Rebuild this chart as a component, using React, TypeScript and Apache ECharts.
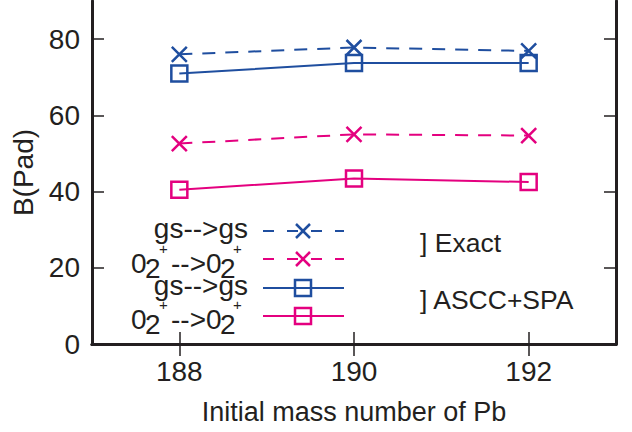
import React, { useEffect, useRef } from "react";
import * as echarts from "echarts";

const massNumbers = [188, 190, 192];
const exactGsGs = [76.0, 77.8, 76.9];
const exact0202 = [52.6, 55.0, 54.7];
const asccGsGs = [71.0, 73.7, 73.7];
const ascc0202 = [40.5, 43.4, 42.5];
const xTicks = [188, 190, 192];
const yTicks = [0, 20, 40, 60, 80];
const groupLabels = ["] Exact", "] ASCC+SPA"];

const BLUE = "#1f4e9f";
const PINK = "#e4007f";
const INK = "#231f20";
const FONT = "Liberation Sans, Arial, Helvetica, sans-serif";
const X_PATH = "path://M0,0L10,10M10,0L0,10";

export default function App() {
  const ref = useRef<HTMLDivElement>(null);
  useEffect(() => {
    if (!ref.current) return;
    const chart = echarts.init(ref.current, undefined, { renderer: "svg" });
    const pair = (arr: number[]) => massNumbers.map((m, i) => [m, arr[i]]);
    const mkSeries = (data: number[], color: string, dashed: boolean, sym: string) => ({
      type: "line",
      data: pair(data),
      symbol: sym,
      symbolSize: sym === "rect" ? 16 : 15,
      showSymbol: true,
      itemStyle: { color: "transparent", borderColor: color, borderWidth: 2.5 },
      lineStyle: { color, width: 2, type: dashed ? [13, 10] : "solid" },
      z: 3,
    });

    const rows = [231, 259, 288, 316];
    const lx1 = 263, lx2 = 344, mx = 303;
    const legendLines: any[] = [];
    const cols = [BLUE, PINK, BLUE, PINK];
    rows.forEach((y, i) => {
      const dashed = i < 2;
      legendLines.push({
        type: "line",
        shape: { x1: lx1, y1: y, x2: lx2, y2: y },
        style: { stroke: cols[i], lineWidth: 2, lineDash: dashed ? [11, 13] : null },
      });
      if (dashed) {
        legendLines.push({ type: "line", shape: { x1: mx - 7, y1: y - 7, x2: mx + 7, y2: y + 7 }, style: { stroke: cols[i], lineWidth: 2.5 } });
        legendLines.push({ type: "line", shape: { x1: mx + 7, y1: y - 7, x2: mx - 7, y2: y + 7 }, style: { stroke: cols[i], lineWidth: 2.5 } });
      } else {
        legendLines.push({ type: "rect", shape: { x: mx - 8, y: y - 8, width: 16, height: 16 }, style: { stroke: cols[i], lineWidth: 2.5, fill: "none" } });
      }
    });

    const txt = (text: string, x: number, y: number, size: number, align = "left") => ({
      type: "text",
      x,
      y,
      style: { text, font: `${size}px ${FONT}`, fill: INK, align, verticalAlign: "middle" },
    });
    const gsRow = (y: number) => [txt("gs-->gs", 248, y, 28, "right")];
    const o2Row = (y: number) => [
      txt("0", 131, y, 28),
      txt("2", 145, y + 5, 28),
      txt("+", 159, y - 15, 15),
      txt("-->0", 171, y, 28),
      txt("2", 220, y + 5, 28),
      txt("+", 233, y - 15, 15),
    ];
    const legendTexts = [
      ...gsRow(228.6),
      ...o2Row(263.3),
      ...gsRow(285.3),
      ...o2Row(319),
      txt(groupLabels[0], 420, 242.5, 26.5),
      txt(groupLabels[1], 420, 300, 26.5),
    ];

    const baseX = {
      type: "value",
      min: 187,
      max: 193,
      axisLine: { show: true, lineStyle: { color: INK, width: 3 } },
      axisTick: { show: true, inside: true, length: 12, customValues: xTicks, lineStyle: { color: INK, width: 1.5 } },
      splitLine: { show: false },
    };
    const baseY = {
      type: "value",
      min: 0,
      max: 90,
      axisLine: { show: true, lineStyle: { color: INK, width: 3 } },
      axisTick: { show: true, inside: true, length: 12, customValues: yTicks, lineStyle: { color: INK, width: 1.5 } },
      splitLine: { show: false },
    };

    chart.setOption({
      animation: false,
      backgroundColor: "#ffffff",
      grid: { left: 92, right: 16, top: 1, bottom: 88, containLabel: false },
      xAxis: [
        {
          ...baseX,
          position: "bottom",
          name: "Initial mass number of Pb",
          nameLocation: "middle",
          nameGap: 54,
          nameTextStyle: { fontSize: 27, fontFamily: FONT, color: INK },
          axisLabel: { show: true, customValues: xTicks, fontSize: 28, fontFamily: FONT, color: INK, margin: 13 },
        },
        { ...baseX, position: "top", axisLabel: { show: false } },
      ],
      yAxis: [
        {
          ...baseY,
          position: "left",
          name: "B(Pad)",
          nameLocation: "middle",
          nameGap: 52,
          nameTextStyle: { fontSize: 28, fontFamily: FONT, color: INK },
          axisLabel: { show: true, customValues: yTicks, fontSize: 28, fontFamily: FONT, color: INK, margin: 12 },
        },
        { ...baseY, position: "right", axisLabel: { show: false } },
      ],
      series: [
        mkSeries(exactGsGs, BLUE, true, X_PATH),
        mkSeries(exact0202, PINK, true, X_PATH),
        mkSeries(asccGsGs, BLUE, false, "rect"),
        mkSeries(ascc0202, PINK, false, "rect"),
      ],
      graphic: [...legendLines, ...legendTexts],
    });
    return () => chart.dispose();
  }, []);
  return <div ref={ref} style={{ width: 632, height: 432, position: "absolute", left: 0, top: 0 }} />;
}
